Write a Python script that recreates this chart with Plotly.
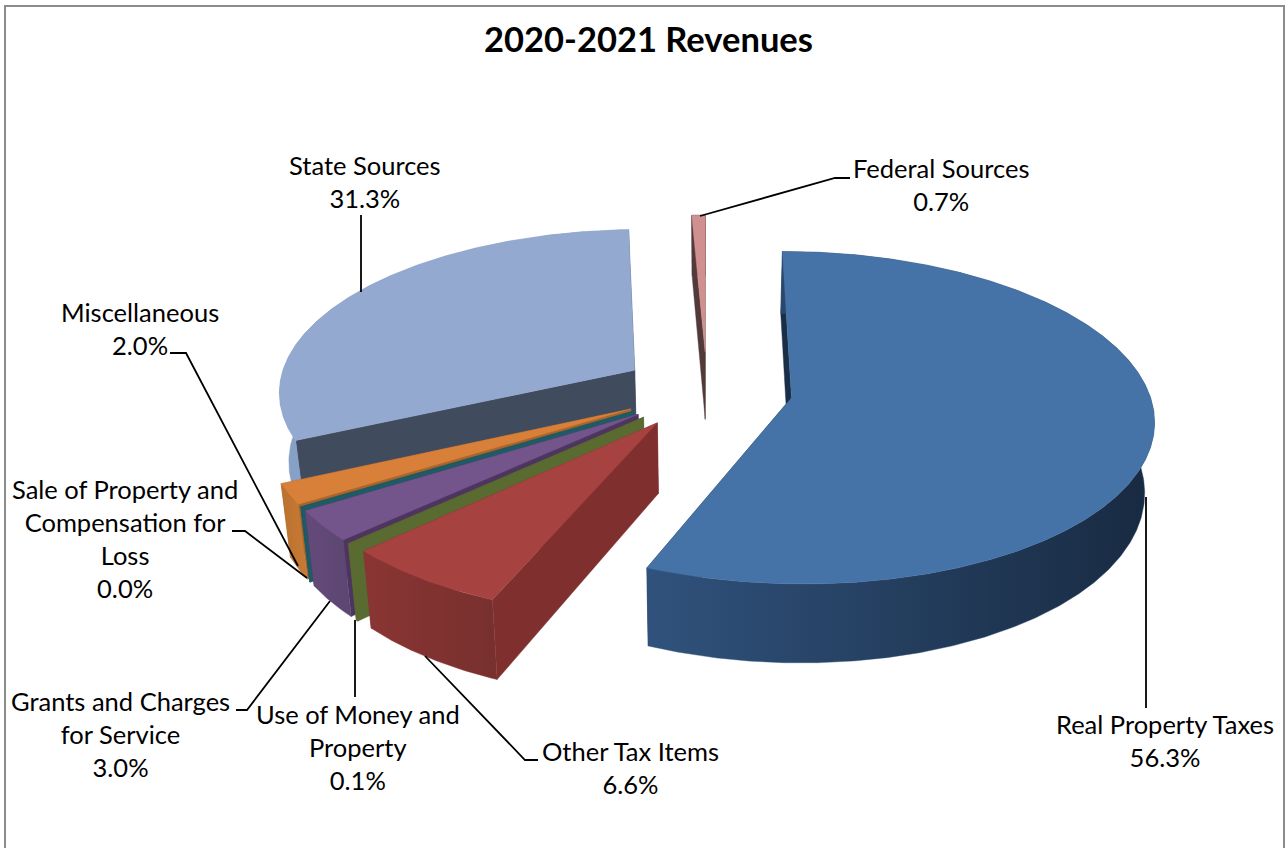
import numpy as np
import plotly.graph_objects as go

TITLE = "2020-2021 Revenues"
categories = ["Real Property Taxes", "Other Tax Items", "Use of Money and Property",
              "Grants and Charges for Service", "Sale of Property and Compensation for Loss",
              "Miscellaneous", "State Sources", "Federal Sources"]
label_text = ["Real Property Taxes", "Other Tax Items", "Use of Money and<br>Property",
              "Grants and Charges<br>for Service", "Sale of Property and<br>Compensation for<br>Loss",
              "Miscellaneous", "State Sources", "Federal Sources"]
values = [56.3, 6.6, 0.1, 3.0, 0.04, 2.0, 31.3, 0.7]
top_colors = ["#4673a7", "#a6423f", "#5a6b31", "#73558c", "#1f5a66", "#d87f3a", "#93a9d0", "#d09090"]
wall_colors = ["#1a2e47", "#7f302e", "#5a6b31", "#4d3560", "#1f5a66", "#a8642a", "#414b5e", "#533a3a"]
outer_left = ["#30527c", "#8a3533", "#5a6b31", "#644a7a", "#1f5a66", "#b8722f", "#86a0c6", "#533a3a"]
outer_right = ["#182a41", "#77302e", "#5a6b31", "#5d4672", "#1f5a66", "#c97a35", "#8ba0c5", "#533a3a"]

# projection of the tilted pie, in page pixels
CX, CY, RX, RY, K, DEPTH, EXPLODE, START, V = 707, 390, 357, 162, 0.12, 69, 0.24, 0.0, 0.022


def project(px, py, drop=0.0):
    s = 1.0 / (1.0 - K * py)
    return CX + RX * px * s * (1 - V * drop / DEPTH), CY + RY * py * s + drop * s


fractions = np.array(values) / sum(values)
ends = START + 360 * np.cumsum(fractions)
starts = ends - 360 * fractions

fig = go.Figure()


def poly(x, y, color, name, gradient=None):
    kw = dict(fillcolor=color) if gradient is None else dict(
        fillgradient=dict(type="horizontal", colorscale=[[0, gradient[0]], [1, gradient[1]]]))
    fig.add_trace(go.Scatter(x=list(x) + [x[0]], y=list(y) + [y[0]], mode="lines", fill="toself",
                             line=dict(width=0.4, color=color), name=name, hoverinfo="name",
                             showlegend=False, **kw))


# far slices first, near slices last
mids = (starts + ends) / 2
order = sorted(range(len(values)), key=lambda i: -np.cos(np.radians(mids[i])))
for i in order:
    mid = np.radians(mids[i])
    ox, oy = EXPLODE * np.sin(mid), -EXPLODE * np.cos(mid)
    t = np.radians(np.linspace(starts[i], ends[i], max(4, int((ends[i] - starts[i]) * 2))))
    ax_, ay_ = ox + np.sin(t), oy - np.cos(t)
    name = categories[i]
    for k in (0, -1):
        x0, y0 = project(ox, oy)
        x1, y1 = project(ax_[k], ay_[k])
        x2, y2 = project(ax_[k], ay_[k], DEPTH)
        x3, y3 = project(ox, oy, DEPTH)
        poly([x0, x1, x2, x3], [y0, y1, y2, y3], wall_colors[i], name)
    tx, ty = project(ax_, ay_)
    bx, by = project(ax_, ay_, DEPTH)
    poly(np.r_[tx, bx[::-1]], np.r_[ty, by[::-1]], outer_left[i], name, (outer_left[i], outer_right[i]))
    x0, y0 = project(ox, oy)
    poly(np.r_[x0, tx], np.r_[y0, ty], top_colors[i], name)

# leader lines and label anchors, page pixels
leader_x = [[1146, 1146], [425, 525, 538], [355, 355], [330, 247, 236], [307, 245, 232],
            [298, 186, 170], [361, 361], [700, 835, 850]]
leader_y = [[497, 708], [656, 760, 760], [620, 697], [601, 710, 710], [578, 531, 531],
            [566, 353, 353], [292, 215], [216, 178, 178]]
label_x = [1165, 630, 358, 120, 125, 140, 365, 941]
label_y = [740, 767, 747, 734, 538, 328, 181, 184]

for lx, ly, name in zip(leader_x, leader_y, categories):
    fig.add_trace(go.Scatter(x=lx, y=ly, mode="lines", line=dict(color="black", width=1.8),
                             hoverinfo="skip", showlegend=False, name=name + " leader"))

FONT = "Lato, Carlito, Calibri, sans-serif"
for lx, ly, txt, v in zip(label_x, label_y, label_text, values):
    fig.add_annotation(x=lx, y=ly, xref="x", yref="y", text=f"{txt}<br>{v:.1f}%", showarrow=False,
                       align="center", xanchor="center", yanchor="middle",
                       font=dict(family=FONT, size=25.5, color="black"))
fig.add_annotation(x=648, y=38, xref="x", yref="y", text=f"<b>{TITLE}</b>", showarrow=False,
                   xanchor="center", yanchor="middle", font=dict(family=FONT, size=34.5, color="black"))

fig.add_shape(type="rect", xref="x", yref="y", x0=5, y0=6, x1=1284, y1=900,
              line=dict(color="#8c8c8c", width=2), layer="below")

fig.update_layout(width=1288, height=848, margin=dict(l=0, r=0, t=0, b=0), paper_bgcolor="white",
                  plot_bgcolor="white", showlegend=False,
                  xaxis=dict(range=[0, 1288], visible=False, fixedrange=True),
                  yaxis=dict(range=[848, 0], visible=False, fixedrange=True))
fig.write_html("out.html", config=dict(displayModeBar=False),
               post_script="document.body.style.margin='0';")
